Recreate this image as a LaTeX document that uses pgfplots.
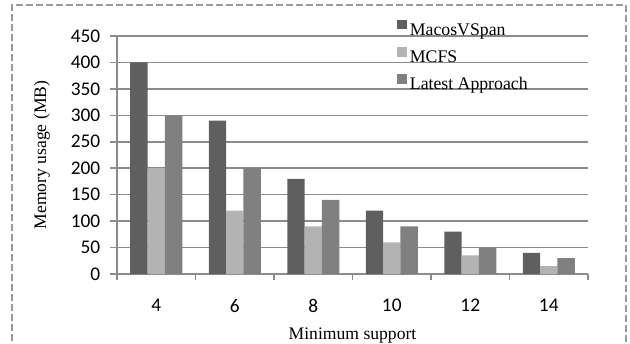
\documentclass[border=0pt]{standalone}
\usepackage{pgfplots}
\pgfplotsset{compat=1.18}
\usepackage{fontspec}
\setmainfont{Liberation Serif}
\newfontfamily\tickfont{Carlito}
\definecolor{cMacos}{HTML}{5F5F5F}
\definecolor{cMCFS}{HTML}{B3B3B3}
\definecolor{cLatest}{HTML}{808080}
\definecolor{gridgray}{HTML}{8C8C8C}
\definecolor{framegray}{HTML}{9A9A9A}

\pgfplotstableread{
x macos mcfs latest
0 400 200 300
1 290 120 200
2 180  90 140
3 120  60  90
4  80  35  50
5  40  15  30
}\memtable

\begin{document}
\begin{tikzpicture}
\begin{axis}[
  at={(0pt,0pt)}, anchor=south west,
  scale only axis, width=353.25pt, height=178.5pt,
  ybar=0pt, bar width=13pt,
  xmin=-0.5, xmax=5.5, ymin=0, ymax=450,
  xtick={0,...,5}, xticklabels={4,6,8,10,12,14},
  minor xtick={-0.5,0.5,...,5.5},
  ytick={0,50,...,450},
  ymajorgrids,
  grid style={gridgray, line width=1.2pt},
  axis x line*=bottom, axis y line*=left,
  axis line style={gridgray, line width=1.2pt, -},
  tick style={gridgray, line width=1.2pt},
  major x tick style={draw=none},
  tick align=outside,
  major tick length=5pt, minor tick length=4.5pt,
  /pgf/number format/assume math mode=true,
  ticklabel style={font=\fontsize{14.5}{17}\tickfont},
  yticklabel style={xshift=-4pt},
  xticklabel style={yshift=-10.5pt},
  label style={font=\fontsize{13.2}{15}\selectfont},
  xlabel={Minimum support},
  ylabel={Memory usage (MB)},
  xlabel style={at={(axis description cs:0.5,-0.2745)}, anchor=base},
  ylabel style={at={(axis description cs:-0.1592,0.5)}, anchor=center},
  legend cell align=left,
  legend style={draw=none, fill=none, at={(0.586,1.08)}, anchor=north west,
    font=\fontsize{13.3}{16}\selectfont, row sep=5.5pt,
    /tikz/every even column/.append style={column sep=1pt}},
  legend image code/.code={\fill[#1] (0pt,0.8pt) rectangle (7.5pt,7.8pt);},
]
\addplot[draw=none, fill=cMacos] table[x=x, y=macos] {\memtable};
\addplot[draw=none, fill=cMCFS] table[x=x, y=mcfs] {\memtable};
\addplot[draw=none, fill=cLatest] table[x=x, y=latest] {\memtable};
\legend{MacosVSpan, MCFS, Latest Approach}
\end{axis}
\draw[framegray, line width=1pt, dash pattern=on 5pt off 2.5pt]
  (-78.75pt,-80pt) rectangle (381.75pt,201.75pt);
\pgfresetboundingbox
\path[use as bounding box] (-87.75pt,-51.75pt) rectangle (384.75pt,205.5pt);
\end{tikzpicture}
\end{document}
